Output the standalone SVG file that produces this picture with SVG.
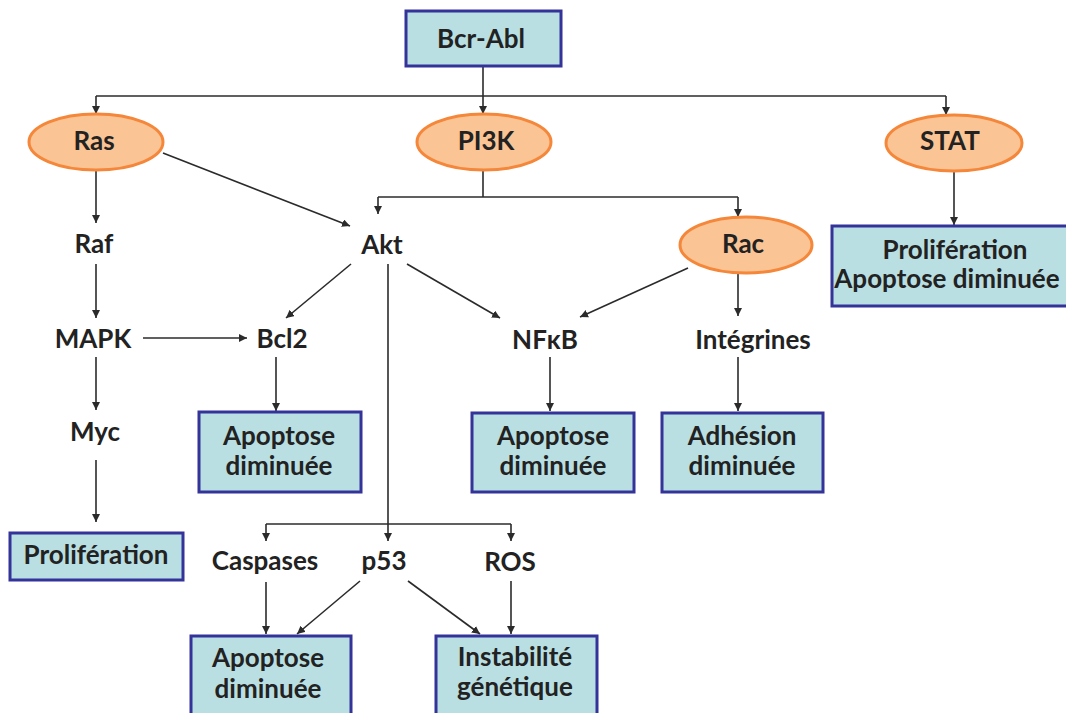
<svg xmlns="http://www.w3.org/2000/svg" width="1066" height="713" viewBox="0 0 1066 713">
<defs>
<marker id="ah" markerUnits="userSpaceOnUse" markerWidth="9" markerHeight="9" refX="8" refY="4" orient="auto">
<path d="M0,0 L8,4 L0,8 z" fill="#2b2b2b"/>
</marker>
<style>
.box{fill:#b9dfe3;stroke:#33339a;stroke-width:3}
.ell{fill:#fbc494;stroke:#f5873a;stroke-width:3}
.t{font-family:Lato,"Open Sans","Liberation Sans",sans-serif;font-weight:700;font-size:26px;fill:#222222;text-anchor:middle}
.c{stroke:#2b2b2b;stroke-width:1.6;fill:none}
.a{marker-end:url(#ah)}
</style>
</defs>
<rect width="1066" height="713" fill="#ffffff"/>
<g id="connectors">
<line class="c a" x1="483" y1="66" x2="483" y2="114"/>
<line class="c" x1="96" y1="96" x2="946" y2="96"/>
<line class="c a" x1="96" y1="96" x2="96" y2="114"/>
<line class="c a" x1="946" y1="96" x2="946" y2="115"/>
<line class="c" x1="483" y1="170" x2="483" y2="197"/>
<line class="c" x1="378" y1="197" x2="738" y2="197"/>
<line class="c a" x1="378" y1="197" x2="378" y2="214"/>
<line class="c a" x1="738" y1="197" x2="738" y2="217"/>
<line class="c a" x1="163" y1="153" x2="350" y2="226"/>
<line class="c a" x1="96" y1="170" x2="96" y2="223"/>
<line class="c a" x1="96" y1="264" x2="96" y2="318"/>
<line class="c a" x1="143" y1="338" x2="247" y2="338"/>
<line class="c a" x1="96" y1="357" x2="96" y2="410"/>
<line class="c a" x1="96" y1="460" x2="96" y2="522"/>
<line class="c a" x1="351" y1="264" x2="286" y2="318"/>
<line class="c a" x1="407" y1="264" x2="500" y2="318"/>
<line class="c a" x1="388" y1="264" x2="388" y2="541"/>
<line class="c" x1="266" y1="524" x2="511" y2="524"/>
<line class="c a" x1="266" y1="524" x2="266" y2="541"/>
<line class="c a" x1="511" y1="524" x2="511" y2="541"/>
<line class="c a" x1="688" y1="268" x2="580" y2="317"/>
<line class="c a" x1="738" y1="273" x2="738" y2="316"/>
<line class="c a" x1="954" y1="171" x2="954" y2="225"/>
<line class="c a" x1="276" y1="357" x2="276" y2="411"/>
<line class="c a" x1="550" y1="357" x2="550" y2="411"/>
<line class="c a" x1="738" y1="357" x2="738" y2="411"/>
<line class="c a" x1="266" y1="582" x2="266" y2="634"/>
<line class="c a" x1="360" y1="581" x2="297" y2="634"/>
<line class="c a" x1="408" y1="581" x2="480" y2="634"/>
<line class="c a" x1="511" y1="581" x2="511" y2="634"/>
</g>
<g id="bcr-abl"><rect class="box" x="406" y="11" width="155" height="55"/><text class="t" x="481" y="48">Bcr-Abl</text></g>
<g id="ras"><ellipse class="ell" cx="96" cy="142" rx="67" ry="28"/><text class="t" x="94" y="150">Ras</text></g>
<g id="pi3k"><ellipse class="ell" cx="484" cy="142" rx="67" ry="28"/><text class="t" x="486" y="150">PI3K</text></g>
<g id="stat"><ellipse class="ell" cx="954" cy="143" rx="68" ry="28"/><text class="t" x="950" y="150">STAT</text></g>
<g id="rac"><ellipse class="ell" cx="746" cy="245" rx="66" ry="28"/><text class="t" x="743" y="253">Rac</text></g>
<g id="raf"><text class="t" x="94" y="253">Raf</text></g>
<g id="akt"><text class="t" x="382" y="254">Akt</text></g>
<g id="mapk"><text class="t" x="93" y="348">MAPK</text></g>
<g id="bcl2"><text class="t" x="282" y="348">Bcl2</text></g>
<g id="nfkb"><text class="t" x="545" y="349">NFκB</text></g>
<g id="integrines"><text class="t" x="753" y="349">Intégrines</text></g>
<g id="myc"><text class="t" x="95" y="441">Myc</text></g>
<g id="stat-out"><rect class="box" x="832" y="226" width="240" height="80"/><text class="t" x="955" y="259">Prolifération</text><text class="t" x="947" y="288">Apoptose diminuée</text></g>
<g id="bcl2-out"><rect class="box" x="199" y="412" width="162" height="80"/><text class="t" x="279" y="445">Apoptose</text><text class="t" x="279" y="475">diminuée</text></g>
<g id="nfkb-out"><rect class="box" x="472" y="413" width="162" height="79"/><text class="t" x="553" y="445">Apoptose</text><text class="t" x="553" y="475">diminuée</text></g>
<g id="adhesion"><rect class="box" x="662" y="413" width="161" height="79"/><text class="t" x="742" y="445">Adhésion</text><text class="t" x="742" y="475">diminuée</text></g>
<g id="proliferation"><rect class="box" x="10" y="533" width="173" height="47"/><text class="t" x="96" y="564">Prolifération</text></g>
<g id="caspases"><text class="t" x="265" y="570">Caspases</text></g>
<g id="p53"><text class="t" x="384" y="570">p53</text></g>
<g id="ros"><text class="t" x="510" y="571">ROS</text></g>
<g id="apoptose-bottom"><rect class="box" x="191" y="636" width="160" height="90"/><text class="t" x="268" y="667">Apoptose</text><text class="t" x="268" y="698">diminuée</text></g>
<g id="instabilite"><rect class="box" x="436" y="636" width="161" height="90"/><text class="t" x="515" y="666">Instabilité</text><text class="t" x="515" y="696">génétique</text></g>
</svg>
